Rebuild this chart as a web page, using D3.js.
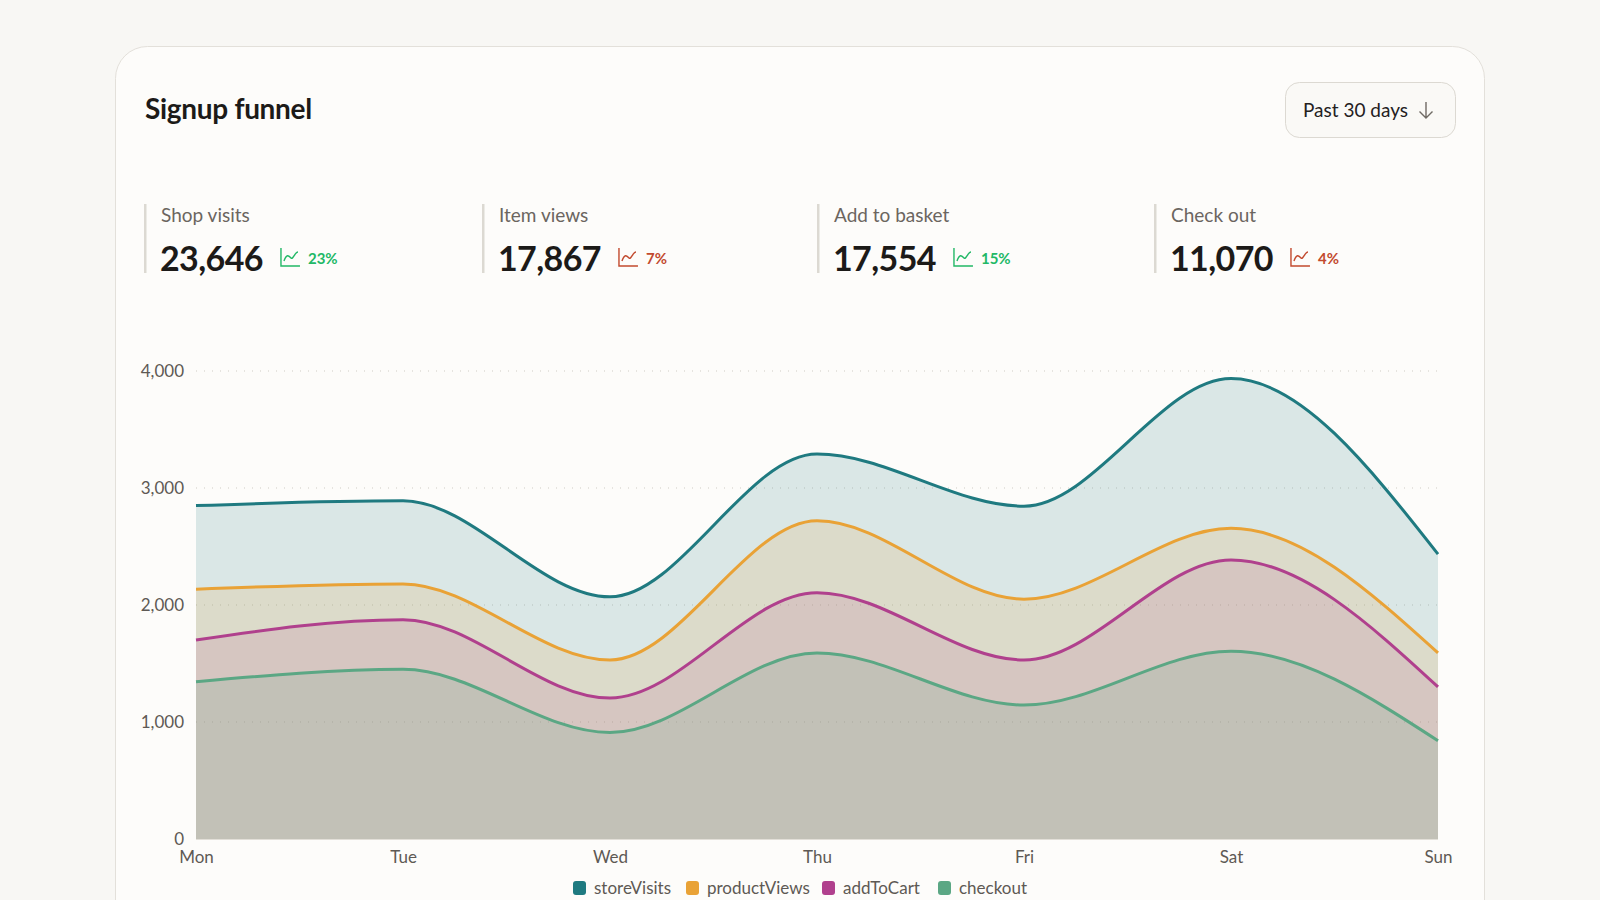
<!DOCTYPE html>
<html>
<head>
<meta charset="utf-8">
<script src="https://cdn.jsdelivr.net/npm/d3@7"></script>
<style>
  body { margin: 0; background: #f8f7f4; font-family: Lato, "Noto Sans", sans-serif; }
</style>
</head>
<body>
<div class="chart"></div>
<script>
    // chart data
    const days = ["Mon", "Tue", "Wed", "Thu", "Fri", "Sat", "Sun"];
    const storeVisits = [2850, 2890, 2070, 3290, 2845, 3935, 2435];
    const productViews = [2135, 2180, 1530, 2720, 2050, 2655, 1590];
    const addToCart = [1700, 1875, 1205, 2105, 1530, 2385, 1300];
    const checkout = [1345, 1450, 910, 1590, 1145, 1605, 840];
    const seriesNames = ["storeVisits", "productViews", "addToCart", "checkout"];
    const seriesColors = ["#1f7a80", "#e9a236", "#b0408d", "#5ba784"];
    const yTicks = [0, 1000, 2000, 3000, 4000];

    // kpi header data
    const kpiLabels = ["Shop visits", "Item views", "Add to basket", "Check out"];
    const kpiValues = [23646, 17867, 17554, 11070];
    const kpiChange = ["23%", "7%", "15%", "4%"];
    const kpiUp = [true, false, true, false];

    const series = [storeVisits, productViews, addToCart, checkout];

    const W = 1600, H = 900;
    const svg = d3.select('.chart').append('svg')
        .attr("width", W)
        .attr("height", H)
        .style("display", "block");

    // card
    svg.append("rect")
        .attr("x", 115.5).attr("y", 46.5)
        .attr("width", 1369).attr("height", 940)
        .attr("rx", 32)
        .attr("fill", "#fdfcfa")
        .attr("stroke", "#e3e0da");

    svg.append("text")
        .attr("x", 145).attr("y", 119)
        .attr("font-size", "28px")
        .attr("font-weight", 700)
        .attr("letter-spacing", "-0.3px")
        .attr("fill", "#1c1a18")
        .text("Signup funnel");

    // period button
    const btn = svg.append("g");
    btn.append("rect")
        .attr("x", 1285.5).attr("y", 82.5)
        .attr("width", 170).attr("height", 55)
        .attr("rx", 14)
        .attr("fill", "#faf9f6")
        .attr("stroke", "#dcd9d2");
    btn.append("text")
        .attr("x", 1303).attr("y", 117)
        .attr("font-size", "19px")
        .attr("fill", "#24211e")
        .text("Past 30 days");
    btn.append("path")
        .attr("d", "M1426,102 V118 M1419.5,111.5 L1426,118 L1432.5,111.5")
        .attr("fill", "none")
        .attr("stroke", "#6f6a64")
        .attr("stroke-width", 1.4);

    // kpis
    const kpiX = [145, 483, 818, 1155];
    kpiLabels.forEach((label, i) => {
        const g = svg.append("g").attr("transform", `translate(${kpiX[i]},0)`);
        g.append("rect")
            .attr("x", -1).attr("y", 204)
            .attr("width", 2.5).attr("height", 69)
            .attr("fill", "#dcd9d2");
        g.append("text")
            .attr("x", 16).attr("y", 222)
            .attr("font-size", "19px")
            .attr("fill", "#6b655f")
            .text(label);
        const val = g.append("text")
            .attr("x", 15).attr("y", 271)
            .attr("font-size", "34px")
            .attr("font-weight", 700)
            .attr("letter-spacing", "-0.6px")
            .attr("fill", "#1c1a18")
            .text(d3.format(",")(kpiValues[i]));
        const vx = 15 + val.node().getComputedTextLength() + 18;
        const col = kpiUp[i] ? "#22b866" : "#c24a2e";
        g.append("path")
            .attr("d", `M${vx},248 V266 H${vx + 19} M${vx + 3},261 C${vx + 6},253 ${vx + 8},256 ${vx + 10},258 C${vx + 12},260 ${vx + 14},252 ${vx + 17},252`)
            .attr("fill", "none")
            .attr("stroke", col)
            .attr("stroke-width", 1.4);
        g.append("text")
            .attr("x", vx + 27).attr("y", 264)
            .attr("font-size", "15px")
            .attr("font-weight", 700)
            .attr("fill", col)
            .text(kpiChange[i]);
    });

    // scales
    const xScale = d3.scalePoint().domain(days).range([196, 1438]);
    const yScale = d3.scaleLinear().domain([0, 4000]).range([839, 371]);

    // grid lines
    svg.append("g")
        .selectAll("line")
        .data(yTicks.filter(d => d > 0))
        .join("line")
        .attr("x1", 196).attr("x2", 1438)
        .attr("y1", d => yScale(d)).attr("y2", d => yScale(d))
        .attr("stroke", "#cfccc5")
        .attr("stroke-width", 1)
        .attr("stroke-dasharray", "1 7");

    const area = d3.area()
        .x((d, i) => xScale(days[i]))
        .y0(yScale(0))
        .y1(d => yScale(d))
        .curve(d3.curveMonotoneX);
    const line = d3.line()
        .x((d, i) => xScale(days[i]))
        .y(d => yScale(d))
        .curve(d3.curveMonotoneX);

    svg.append("g")
        .selectAll("path")
        .data(series)
        .join("path")
        .attr("d", area)
        .attr("fill", (d, i) => seriesColors[i])
        .attr("fill-opacity", (d, i) => i === 2 ? 0.13 : 0.155);

    svg.append("line")
        .attr("x1", 196).attr("x2", 1438)
        .attr("y1", yScale(0) + 0.5).attr("y2", yScale(0) + 0.5)
        .attr("stroke", "#e2dfd8");

    svg.append("g")
        .selectAll("path")
        .data(series)
        .join("path")
        .attr("d", line)
        .attr("fill", "none")
        .attr("stroke", (d, i) => seriesColors[i])
        .attr("stroke-width", 3);

    // axes
    const yAxis = d3.axisLeft(yScale).tickValues(yTicks).tickFormat(d3.format(",")).tickSize(0).tickPadding(12);
    svg.append("g")
        .attr("transform", "translate(196,0)")
        .call(yAxis)
        .call(g => g.select(".domain").remove())
        .selectAll("text")
        .attr("font-family", "Lato, sans-serif")
        .attr("font-size", "17px")
        .attr("fill", "#5e5954");

    const xAxis = d3.axisBottom(xScale).tickSize(0).tickPadding(12);
    svg.append("g")
        .attr("transform", "translate(0,839)")
        .call(xAxis)
        .call(g => g.select(".domain").remove())
        .selectAll("text")
        .attr("font-family", "Lato, sans-serif")
        .attr("font-size", "17px")
        .attr("fill", "#5e5954");

    // legend
    const legend = svg.append("g");
    const legendX = [573, 686, 822, 938];
    seriesNames.forEach((name, i) => {
        legend.append("rect")
            .attr("x", legendX[i]).attr("y", 881)
            .attr("width", 13).attr("height", 14)
            .attr("rx", 3)
            .attr("fill", seriesColors[i]);
        legend.append("text")
            .attr("x", legendX[i] + 21).attr("y", 894)
            .attr("font-size", "17px")
            .attr("fill", "#5e5954")
            .text(name);
    });
</script>
</body>
</html>
